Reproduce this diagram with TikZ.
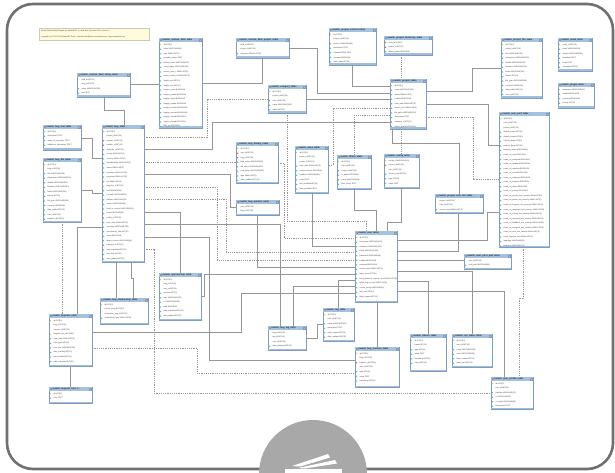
\documentclass[tikz,border=0pt]{standalone}
\usepackage{fontspec}
\setmainfont{Liberation Sans}
\usetikzlibrary{arrows.meta}
\pgfdeclarelayer{bg}
\pgfsetlayers{bg,main}

\definecolor{headblue}{RGB}{164,194,224}
\definecolor{tabedge}{RGB}{128,156,190}
\definecolor{footblue}{RGB}{160,190,222}
\definecolor{relgray}{RGB}{150,150,150}
\definecolor{framegray}{RGB}{112,112,112}
\definecolor{logogray}{RGB}{168,168,168}
\definecolor{notefill}{RGB}{255,252,222}
\definecolor{keyyellow}{RGB}{240,200,40}
\definecolor{fkred}{RGB}{220,90,90}
\definecolor{colcyan}{RGB}{70,190,200}
\definecolor{rowtxt}{RGB}{60,60,60}

\tikzset{
  tabbody/.style={draw=tabedge, fill=white, line width=0.4pt, anchor=north west, inner sep=0pt, outer sep=0pt},
  tabtitle/.style={anchor=west, inner sep=0pt, font=\fontsize{2.3}{2.5}\selectfont\bfseries, text=black!85},
  rowtext/.style={anchor=west, inner sep=0pt, font=\fontsize{1.9}{2.1}\selectfont, text=rowtxt},
  ico-k/.style={fill=keyyellow}, ico-f/.style={fill=fkred}, ico-c/.style={fill=colcyan}, ico-n/.style={fill=none},
  rel/.style={draw=relgray, line width=0.4pt, {Bar[width=1.8pt,line width=0.3pt]}-{Bar[width=1.8pt,line width=0.3pt]}},
  reldash/.style={rel, dash pattern=on 1.2pt off 1pt},
  notebox/.style={fill=notefill, draw=notefill!80!black, line width=0.2pt, anchor=north west, inner sep=0pt},
  notetext/.style={anchor=west, inner sep=0pt, font=\fontsize{1.9}{2.1}\selectfont, text=black!75},
}

% \ertable{name}{x}{y}{width}{height}{title}{icon/row, ...}
\newcommand\ertable[7]{%
  \node[tabbody, minimum width=#4pt, minimum height=#5pt] (#1) at (#2,#3) {};
  \fill[headblue] ([shift={(0.2pt,-0.2pt)}]#1.north west) rectangle ([shift={(-0.2pt,-4.4pt)}]#1.north east);
  \fill[footblue] ([shift={(0.2pt,1.5pt)}]#1.south west) rectangle ([shift={(-0.2pt,0.2pt)}]#1.south east);
  \fill[tabedge] ([shift={(0.9pt,-1.3pt)}]#1.north west) rectangle ++(1.8pt,-1.8pt);
  \draw[tabedge, line width=0.2pt] ([shift={(-2.6pt,-1.3pt)}]#1.north east) rectangle ++(1.6pt,-1.6pt);
  \node[tabtitle] at ([shift={(3.4pt,-2.2pt)}]#1.north west) {#6};
  \foreach \ty/\tx [count=\i from 0] in {#7} {
    \path ([shift={(1.6pt,{-6.6pt-\i*4.55pt})}]#1.north west) coordinate (ic);
    \fill[ico-\ty] (ic) ++(0.75pt,0) -- ++(-0.75pt,0.75pt) -- ++(-0.75pt,-0.75pt) -- ++(0.75pt,-0.75pt) -- cycle;
    \node[rowtext] at ([xshift=2.9pt]ic) {\tx};
  }
}

\begin{document}
\catcode`\_=12
\begin{tikzpicture}[x=1pt,y=-1pt]
\useasboundingbox (0,0) rectangle (615,473);

% ---------- tables ----------
\node[notebox, minimum width=110pt, minimum height=12pt] (note) at (39,28) {};
\node[notetext] (noteA) at (41,31.3) {Entity Relationship Diagram for MantisBT 1.3.x and later (schema 201), version 4};
\node[notetext] (noteB) at (41,37) {Copyright (c) 2010-2016 MantisBT Team - mantisbt-dev@lists.sourceforge.net - https://mantisbt.org};

\ertable{cfstr}{77}{73}{53}{24}{mantis_custom_field_string_table}{n/field_id INT(10), n/bug_id INT(10), c/value VARCHAR(255), c/text TEXT}

\ertable{cfield}{159}{38}{43}{90}{mantis_custom_field_table}{k/id INT(10), c/name VARCHAR(64), c/type SMALLINT(6), c/possible_values TEXT, c/default_value VARCHAR(255), c/valid_regexp VARCHAR(255), c/access_level_r SMALLINT(6), c/access_level_rw SMALLINT(6), c/length_min INT(10), c/length_max INT(10), c/require_report BOOLEAN, c/require_update BOOLEAN, c/display_report BOOLEAN, c/display_update BOOLEAN, c/require_resolved BOOLEAN, c/display_resolved BOOLEAN, c/display_closed BOOLEAN, c/require_closed BOOLEAN, c/filter_by BOOLEAN}

\ertable{cfproj}{236}{38}{53}{20}{mantis_custom_field_project_table}{n/field_id INT(10), n/project_id INT(10), c/sequence SMALLINT(6)}

\ertable{pver}{329}{28}{47}{37}{mantis_project_version_table}{k/id INT(10), n/project_id INT(10), c/version VARCHAR(64), c/description TEXT, c/released BOOLEAN, c/obsolete BOOLEAN, c/date_order INT(10)}

\ertable{phier}{384}{36}{48}{19}{mantis_project_hierarchy_table}{f/child_id INT(10), f/parent_id INT(10), c/inherit_parent BOOLEAN}

\ertable{pfile}{501}{38}{41}{60}{mantis_project_file_table}{k/id INT(10), n/project_id INT(10), c/title VARCHAR(250), c/description VARCHAR(250), c/diskfile VARCHAR(250), c/filename VARCHAR(250), c/folder VARCHAR(250), c/filesize INT(11), c/file_type VARCHAR(250), c/content LONGBLOB, c/date_added INT(10), c/user_id INT(10)}

\ertable{email}{558}{38}{34}{33}{mantis_email_table}{k/email_id INT(10), c/email VARCHAR(64), c/subject VARCHAR(250), c/metadata TEXT, c/body TEXT, c/submitted INT(10)}

\ertable{plugin}{558}{83}{36}{25}{mantis_plugin_table}{k/basename VARCHAR(40), c/enabled BOOLEAN, c/protected BOOLEAN, c/priority INT(10)}

\ertable{category}{268}{85}{38}{28}{mantis_category_table}{k/id INT(10), n/project_id INT(10), f/user_id INT(10), c/name VARCHAR(128), c/status INT(10)}

\ertable{project}{390}{79}{36}{50}{mantis_project_table}{k/id INT(10), c/name VARCHAR(128), c/status SMALLINT(6), c/enabled BOOLEAN, c/view_state SMALLINT(6), c/access_min SMALLINT(6), c/file_path VARCHAR(250), c/description TEXT, f/category_id INT(10), c/inherit_global BOOLEAN}

\ertable{btext}{43}{125}{38}{25}{mantis_bug_text_table}{k/id INT(10), c/description TEXT, c/steps_to_reproduce TEXT, c/additional_information TEXT}

\ertable{bug}{102}{125}{42}{137}{mantis_bug_table}{k/id INT(10), n/project_id INT(10), f/reporter_id INT(10), f/handler_id INT(10), c/duplicate_id INT(10), c/priority SMALLINT(6), c/severity SMALLINT(6), c/reproducibility SMALLINT(6), c/status SMALLINT(6), c/resolution SMALLINT(6), c/projection SMALLINT(6), c/eta SMALLINT(6), k/bug_text_id INT(10), c/os VARCHAR(32), c/os_build VARCHAR(32), c/platform VARCHAR(32), c/version VARCHAR(64), c/fixed_in_version VARCHAR(64), c/build VARCHAR(32), f/profile_id INT(10), c/view_state SMALLINT(6), c/summary VARCHAR(128), c/sponsorship_total INT(10), c/sticky BOOLEAN, c/target_version VARCHAR(64), f/category_id INT(10), c/date_submitted INT(10), c/due_date INT(10), c/last_updated INT(10)}

\ertable{bfile}{43}{158}{38}{64}{mantis_bug_file_table}{k/id INT(10), n/bug_id INT(10), c/title VARCHAR(250), c/description VARCHAR(250), c/diskfile VARCHAR(250), c/filename VARCHAR(250), c/folder VARCHAR(250), c/filesize INT(11), c/file_type VARCHAR(250), c/content LONGBLOB, c/date_added INT(10), c/user_id INT(10), c/bugnote_id INT(10)}

\ertable{bhist}{236}{142}{42}{41}{mantis_bug_history_table}{k/id INT(10), f/user_id INT(10), f/bug_id INT(10), c/field_name VARCHAR(64), c/old_value VARCHAR(255), c/new_value VARCHAR(255), c/type SMALLINT(6), c/date_modified INT(10)}

\ertable{news}{295}{146}{33}{47}{mantis_news_table}{k/id INT(10), n/project_id INT(10), n/poster_id INT(10), c/view_state SMALLINT(6), c/announcement BOOLEAN, c/headline VARCHAR(64), c/body TEXT, c/last_modified INT(10), c/date_posted INT(10)}

\ertable{filters}{337}{155}{34}{34}{mantis_filters_table}{k/id INT(10), n/user_id INT(10), f/project_id INT(10), c/is_public BOOLEAN, c/name VARCHAR(64), c/filter_string TEXT}

\ertable{config}{384}{154}{35}{34}{mantis_config_table}{k/config_id VARCHAR(64), f/project_id INT(10), n/user_id INT(10), c/access_reqd INT(10), c/type INT(10), c/value TEXT}

\ertable{bmon}{236}{200}{43}{15}{mantis_bug_monitor_table}{n/user_id INT(10), n/bug_id INT(10)}

\ertable{upref}{499}{112}{50}{135}{mantis_user_pref_table}{k/id INT(10), n/user_id INT(10), n/project_id INT(10), c/default_profile INT(10), c/default_project INT(10), c/refresh_delay INT(10), c/redirect_delay INT(10), c/bugnote_order VARCHAR(4), c/email_on_new BOOLEAN, c/email_on_assigned BOOLEAN, c/email_on_feedback BOOLEAN, c/email_on_resolved BOOLEAN, c/email_on_closed BOOLEAN, c/email_on_reopened BOOLEAN, c/email_on_bugnote BOOLEAN, c/email_on_status BOOLEAN, c/email_on_priority BOOLEAN, c/email_on_priority_min_severity SMALLINT(6), c/email_on_status_min_severity SMALLINT(6), c/email_on_bugnote_min_severity SMALLINT(6), c/email_on_reopened_min_severity SMALLINT(6), c/email_on_closed_min_severity SMALLINT(6), c/email_on_resolved_min_severity SMALLINT(6), c/email_on_feedback_min_severity SMALLINT(6), c/email_on_assigned_min_severity SMALLINT(6), c/email_on_new_min_severity SMALLINT(6), c/email_bugnote_limit SMALLINT(6), c/language VARCHAR(32), c/timezone VARCHAR(32)}

\ertable{pulist}{435}{194}{48}{19}{mantis_project_user_list_table}{n/project_id INT(10), n/user_id INT(10), c/access_level SMALLINT(6)}

\ertable{uprint}{464}{254}{47}{15}{mantis_user_print_pref_table}{n/user_id INT(10), c/print_pref VARCHAR(64)}

\ertable{user}{355}{231}{42}{71}{mantis_user_table}{k/id INT(10), c/username VARCHAR(191), c/realname VARCHAR(191), c/email VARCHAR(191), c/password VARCHAR(64), c/enabled BOOLEAN, c/protected BOOLEAN, c/access_level SMALLINT(6), c/login_count INT(10), c/lost_password_request_count SMALLINT(6), c/failed_login_count SMALLINT(6), c/cookie_string VARCHAR(64), c/last_visit INT(10), c/date_created INT(10)}

\ertable{spons}{159}{273}{42}{47}{mantis_sponsorship_table}{k/id INT(10), n/bug_id INT(10), n/user_id INT(10), c/amount INT(10), c/logo VARCHAR(128), c/url VARCHAR(128), c/paid BOOLEAN, c/date_submitted INT(10), c/last_updated INT(10)}

\ertable{brel}{100}{298}{48}{26}{mantis_bug_relationship_table}{k/id INT(10), n/source_bug_id INT(10), n/destination_bug_id INT(10), c/relationship_type SMALLINT(6)}

\ertable{bugnote}{49}{314}{43}{52}{mantis_bugnote_table}{k/id INT(10), n/bug_id INT(10), n/reporter_id INT(10), k/bugnote_text_id INT(10), c/view_state SMALLINT(6), c/note_type INT(10), c/note_attr VARCHAR(250), c/time_tracking INT(10), c/last_modified INT(10), c/date_submitted INT(10)}

\ertable{bntext}{49}{387}{43}{16}{mantis_bugnote_text_t...}{k/id INT(10), c/note TEXT}

\ertable{bugtag}{268}{326}{38}{24}{mantis_bug_tag_table}{n/bug_id INT(10), n/tag_id INT(10), n/user_id INT(10), c/date_attached INT(10)}

\ertable{tag}{323}{308}{31}{33}{mantis_tag_table}{k/id INT(10), n/user_id INT(10), c/name VARCHAR(100), c/description TEXT, c/date_created INT(10), c/date_updated INT(10)}

\ertable{brev}{355}{347}{44}{40}{mantis_bug_revision_table}{k/id INT(10), n/bug_id INT(10), f/bugnote_id INT(10), n/user_id INT(10), c/type INT(10), c/value TEXT, c/timestamp INT(10)}

\ertable{tokens}{410}{334}{36}{37}{mantis_tokens_table}{k/id INT(10), n/owner INT(10), c/type INT(10), c/value TEXT, c/timestamp INT(10), c/expiry INT(10)}

\ertable{apitok}{452}{334}{40}{33}{mantis_api_token_table}{k/id INT(10), n/user_id INT(10), c/name VARCHAR(128), c/hash VARCHAR(128), c/date_created INT(10), c/date_used INT(10)}

\ertable{uprof}{491}{377}{42}{32}{mantis_user_profile_table}{k/id INT(10), n/user_id INT(10), c/platform VARCHAR(32), c/os VARCHAR(32), c/os_build VARCHAR(32), c/description TEXT}

% ---------- page, frame, badge and relations (behind the tables) ----------
\begin{pgfonlayer}{bg}
\fill[white] (0,0) rectangle (615,473);
\draw[framegray, line width=2.6pt, rounded corners=26pt] (7,4) rectangle (613,469);
\begin{scope}
  \clip (0,0) rectangle (615,473);
  \fill[logogray] (313,474) circle (54pt);
  \fill[white] (285,469) rectangle (342,473);
  \fill[white] (292,466) -- (328,454) -- (330,457.5) -- (300,466.5) -- cycle;
  \fill[white] (298,468) -- (335,460) -- (337,463.5) -- (305,468.5) -- cycle;
\end{scope}

% custom fields
\draw[rel] (cfstr.east |- 0,84) -- (cfield.west |- 0,84);
\draw[rel] (cfproj.south -| 262,0) -- (262,83) -- (cfield.east |- 0,83);
\draw[rel] (cfstr.south -| 104,0) -- (104,110) -- (124,110) -- (bug.north -| 124,0);
\draw[rel] (cfproj.east |- 0,48) -- (317,48) -- (317,93) -- (project.west |- 0,93);

% bug, left side and below
\draw[rel] (btext.east |- 0,138) -- (92,138) -- (92,158) -- (bug.west |- 0,158);
\draw[rel] (bfile.east |- 0,190) -- (92,190) -- (92,193) -- (bug.west |- 0,193);
\draw[rel] (bug.west |- 0,227) -- (77,227) -- (bugnote.north -| 77,0);
\draw[reldash] (bfile.south -| 62,0) -- (bugnote.north -| 62,0);
\draw[rel] (bug.south -| 116,0) -- (brel.north -| 116,0);
\draw[rel] (bug.south -| 131,0) -- (131,278) -- (133,278) -- (brel.north -| 133,0);
\draw[rel] (bugnote.south -| 70,0) -- (bntext.north -| 70,0);

% bug, right side
\draw[reldash] (bug.east |- 0,137) -- (207,137) -- (207,99) -- (category.west |- 0,99);
\draw[rel] (bug.east |- 0,149) -- (212,149) -- (212,122) -- (project.west |- 0,122);
\draw[reldash] (bug.east |- 0,162) -- (bhist.west |- 0,162);
\draw[rel] (bug.east |- 0,174) -- (230,174) -- (230,207) -- (bmon.west |- 0,207);
\draw[reldash] (bug.east |- 0,187) -- (217,187) -- (217,260) -- (user.west |- 0,260);
\draw[reldash] (bug.east |- 0,199) -- (226,199) -- (226,252) -- (user.west |- 0,252);
\draw[rel] (bug.east |- 0,212) -- (180,212) -- (spons.north -| 180,0);
\draw[rel] (bug.east |- 0,224) -- (280,224) -- (bugtag.north -| 280,0);
\draw[rel] (bug.east |- 0,237) -- (209,237) -- (209,360) -- (brev.west |- 0,360);
\draw[reldash] (bug.east |- 0,249) -- (154,249) -- (154,393) -- (uprof.west |- 0,393);

% bugnote and sponsorship
\draw[rel] (bugnote.east |- 0,332) -- (241,332) -- (241,293) -- (user.west |- 0,293);
\draw[reldash] (bugnote.east |- 0,348) -- (197,348) -- (197,373) -- (brev.west |- 0,373);
\draw[rel] (spons.east |- 0,296) -- (204,296) -- (204,274) -- (user.west |- 0,274);

% user, left side and top
\draw[reldash] (bhist.east |- 0,163) -- (284,163) -- (284,238) -- (user.west |- 0,238);
\draw[rel] (news.south -| 312,0) -- (312,246) -- (user.west |- 0,246);
\draw[rel] (bmon.south -| 257,0) -- (257,267) -- (user.west |- 0,267);
\draw[rel] (user.west |- 0,280) -- (338,280) -- (tag.north -| 338,0);
\draw[rel] (user.west |- 0,286) -- (293,286) -- (bugtag.north -| 293,0);
\draw[rel] (bugtag.east |- 0,338) -- (317,338) -- (317,324) -- (tag.west |- 0,324);
\draw[rel] (user.south -| 377,0) -- (brev.north -| 377,0);
\draw[reldash] (category.south -| 287,0) -- (287,221) -- (366,221) -- (user.north -| 366,0);
\draw[rel] (filters.south -| 354,0) -- (354,210) -- (376,210) -- (user.north -| 376,0);
\draw[rel] (config.south -| 401,0) -- (401,222) -- (387,222) -- (user.north -| 387,0);

% user, right side
\draw[rel] (upref.west |- 0,212) -- (487,212) -- (487,240) -- (user.east |- 0,240);
\draw[rel] (pulist.south -| 458,0) -- (458,251) -- (user.east |- 0,251);
\draw[rel] (uprint.west |- 0,260) -- (user.east |- 0,260);
\draw[rel] (user.east |- 0,271) -- (472,271) -- (apitok.north -| 472,0);
\draw[rel] (user.east |- 0,281) -- (428,281) -- (tokens.north -| 428,0);
\draw[rel] (user.east |- 0,291) -- (504,291) -- (uprof.north -| 504,0);
\draw[reldash] (upref.south -| 523,0) -- (523,298) -- (519,298) -- (uprof.north -| 519,0);

% project
\draw[rel] (pver.south -| 352,0) -- (352,86) -- (project.west |- 0,86);
\draw[rel] (category.east |- 0,99) -- (project.west |- 0,99);
\draw[reldash] (project.west |- 0,108) -- (333,108) -- (333,165) -- (news.east |- 0,165);
\draw[reldash] (project.west |- 0,115) -- (354,115) -- (filters.north -| 354,0);
\draw[reldash] (phier.south -| 401,0) -- (project.north -| 401,0);
\draw[reldash] (project.south -| 401,0) -- (config.north -| 401,0);
\draw[rel] (project.south -| 392,0) -- (392,143) -- (459,143) -- (pulist.north -| 459,0);
\draw[rel] (project.east |- 0,91) -- (472,91) -- (472,68) -- (pfile.west |- 0,68);
\draw[rel] (project.east |- 0,104) -- (488,104) -- (488,145) -- (upref.west |- 0,145);
\draw[reldash] (project.east |- 0,117) -- (473,117) -- (473,179) -- (upref.west |- 0,179);
\end{pgfonlayer}
\end{tikzpicture}
\end{document}
